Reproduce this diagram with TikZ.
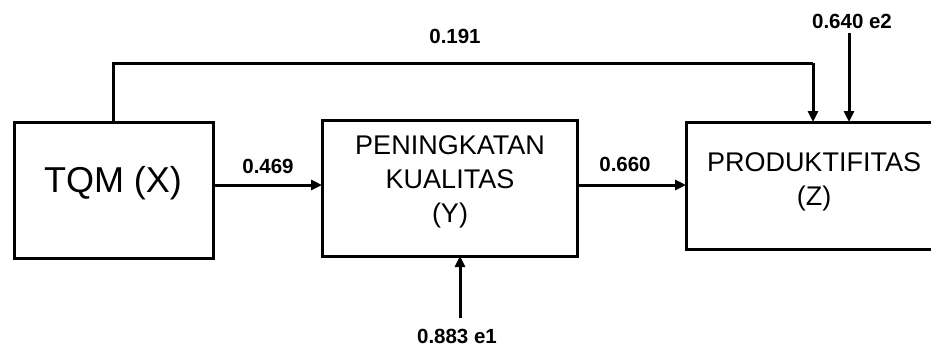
\documentclass[tikz,border=0pt]{standalone}
\usepackage{fontspec}
\setmainfont{Liberation Sans}
\usetikzlibrary{arrows.meta}
\tikzset{
  box/.style={draw, line width=3pt, inner sep=0pt, outer sep=0pt},
  openbox/.style={inner sep=0pt, outer sep=0pt},
  boxline/.style={line width=3pt},
  boxtext/.style={align=center, inner sep=0pt, font=\fontsize{27}{34}\selectfont},
  coef/.style={inner sep=0pt, font=\fontsize{20.5}{22}\selectfont\bfseries},
  arr/.style={line width=3pt, -{Triangle[length=11pt,width=10pt]}},
  link/.style={line width=3pt}
}
\begin{document}
\begin{tikzpicture}[x=1pt,y=-1pt]
  \useasboundingbox (0,0) rectangle (932,349);

  % variable boxes
  \node[box, minimum width=199pt, minimum height=136pt] (X) at (113.5,190) {};
  \node[box, minimum width=255pt, minimum height=136pt] (Y) at (449.5,188) {};
  % open-ended box running to the right edge: three sides only
  \node[openbox, minimum width=245pt, minimum height=127pt] (Z) at (808.5,185.5) {};
  \draw[boxline] (Z.north east) -- (Z.north west) -- (Z.south west) -- (Z.south east);

  % box captions
  \node[inner sep=0pt, font=\fontsize{36}{40}\selectfont] (Xt) at (113,183) {TQM (X)};
  \node[boxtext] (Yt) at (450,182) {PENINGKATAN\\KUALITAS\\(Y)};
  \node[boxtext] (Zt) at (814,182) {PRODUKTIFITAS\\(Z)};

  % routing points
  \coordinate (r1) at (0,185);
  \coordinate (t1) at (113,63);
  \coordinate (t2) at (813,63);
  \coordinate (e1s) at (460,318);
  \coordinate (e2s) at (849,33);

  % paths
  \draw[arr] (X.east |- r1) -- (Y.west |- r1);
  \draw[arr] (Y.east |- r1) -- (Z.west |- r1);
  \draw[link] (X.north -| t1) -- (t1) -- (t2);
  \draw[arr] (t2) -- (Z.north -| t2);
  \draw[arr] (e2s) -- (Z.north -| e2s);
  \draw[arr] (e1s) -- (Y.south -| e1s);

  % path coefficients
  \node[coef] (c191) at (455,36) {0.191};
  \node[coef] (c469) at (268,166) {0.469};
  \node[coef] (c660) at (625,164) {0.660};
  \node[coef] (ce2) at (852,21) {0.640 e2};
  \node[coef] (ce1) at (457,336) {0.883 e1};
\end{tikzpicture}
\end{document}
